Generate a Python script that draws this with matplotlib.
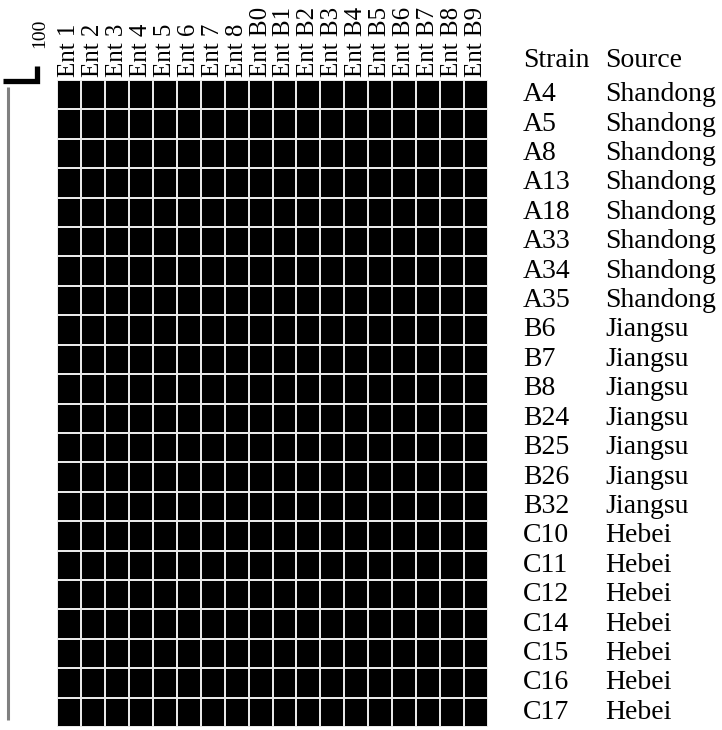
import numpy as np
import matplotlib
matplotlib.use("Agg")
import matplotlib.pyplot as plt
from matplotlib.colors import ListedColormap
from matplotlib.transforms import blended_transform_factory

genes = ["Ent 1", "Ent 2", "Ent 3", "Ent 4", "Ent 5", "Ent 6", "Ent 7", "Ent 8", "Ent B0",
         "Ent B1", "Ent B2", "Ent B3", "Ent B4", "Ent B5", "Ent B6", "Ent B7", "Ent B8", "Ent B9"]
strains = ["A4", "A5", "A8", "A13", "A18", "A33", "A34", "A35",
           "B6", "B7", "B8", "B24", "B25", "B26", "B32",
           "C10", "C11", "C12", "C14", "C15", "C16", "C17"]
sources = ["Shandong"] * 8 + ["Jiangsu"] * 7 + ["Hebei"] * 7
# 1 = gene present (black cell)
presence = [
    [1, 1, 1, 1, 1, 1, 1, 1, 1, 1, 1, 1, 1, 1, 1, 1, 1, 1],
    [1, 1, 1, 1, 1, 1, 1, 1, 1, 1, 1, 1, 1, 1, 1, 1, 1, 1],
    [1, 1, 1, 1, 1, 1, 1, 1, 1, 1, 1, 1, 1, 1, 1, 1, 1, 1],
    [1, 1, 1, 1, 1, 1, 1, 1, 1, 1, 1, 1, 1, 1, 1, 1, 1, 1],
    [1, 1, 1, 1, 1, 1, 1, 1, 1, 1, 1, 1, 1, 1, 1, 1, 1, 1],
    [1, 1, 1, 1, 1, 1, 1, 1, 1, 1, 1, 1, 1, 1, 1, 1, 1, 1],
    [1, 1, 1, 1, 1, 1, 1, 1, 1, 1, 1, 1, 1, 1, 1, 1, 1, 1],
    [1, 1, 1, 1, 1, 1, 1, 1, 1, 1, 1, 1, 1, 1, 1, 1, 1, 1],
    [1, 1, 1, 1, 1, 1, 1, 1, 1, 1, 1, 1, 1, 1, 1, 1, 1, 1],
    [1, 1, 1, 1, 1, 1, 1, 1, 1, 1, 1, 1, 1, 1, 1, 1, 1, 1],
    [1, 1, 1, 1, 1, 1, 1, 1, 1, 1, 1, 1, 1, 1, 1, 1, 1, 1],
    [1, 1, 1, 1, 1, 1, 1, 1, 1, 1, 1, 1, 1, 1, 1, 1, 1, 1],
    [1, 1, 1, 1, 1, 1, 1, 1, 1, 1, 1, 1, 1, 1, 1, 1, 1, 1],
    [1, 1, 1, 1, 1, 1, 1, 1, 1, 1, 1, 1, 1, 1, 1, 1, 1, 1],
    [1, 1, 1, 1, 1, 1, 1, 1, 1, 1, 1, 1, 1, 1, 1, 1, 1, 1],
    [1, 1, 1, 1, 1, 1, 1, 1, 1, 1, 1, 1, 1, 1, 1, 1, 1, 1],
    [1, 1, 1, 1, 1, 1, 1, 1, 1, 1, 1, 1, 1, 1, 1, 1, 1, 1],
    [1, 1, 1, 1, 1, 1, 1, 1, 1, 1, 1, 1, 1, 1, 1, 1, 1, 1],
    [1, 1, 1, 1, 1, 1, 1, 1, 1, 1, 1, 1, 1, 1, 1, 1, 1, 1],
    [1, 1, 1, 1, 1, 1, 1, 1, 1, 1, 1, 1, 1, 1, 1, 1, 1, 1],
    [1, 1, 1, 1, 1, 1, 1, 1, 1, 1, 1, 1, 1, 1, 1, 1, 1, 1],
    [1, 1, 1, 1, 1, 1, 1, 1, 1, 1, 1, 1, 1, 1, 1, 1, 1, 1],
]
similarity = 100  # all strains cluster at 100 % similarity

plt.rcParams["font.family"] = ["Liberation Serif", "DejaVu Serif"]

W, H = 722, 730
fig = plt.figure(figsize=(W / 100, H / 100), dpi=100)

# heatmap block (pixel box from the reference)
x0, x1, y0, y1 = 57, 488, 80, 727
ax = fig.add_axes([x0 / W, 1 - y1 / H, (x1 - x0) / W, (y1 - y0) / H])
mat = np.array(presence)
ax.pcolormesh(mat, cmap=ListedColormap(["white", "black"]), vmin=0, vmax=1,
              edgecolors="#e8e8e8", linewidth=1.1)
ax.set_xlim(0, len(genes))
ax.set_ylim(len(strains), 0)
ax.xaxis.tick_top()
ax.set_xticks(np.arange(len(genes)) + 0.5)
ax.set_xticklabels(genes, rotation=90, fontsize=18, va="bottom")
ax.tick_params(axis="x", length=0, pad=2)
ax.set_yticks([])
for s in ax.spines.values():
    s.set_visible(False)

# strain / source table on the right
tr = blended_transform_factory(ax.transAxes, ax.transData)
col_strain = (523 - x0) / (x1 - x0)
col_source = (605 - x0) / (x1 - x0)
fs = 20
ax.text(col_strain, -0.65, "Strain", transform=tr, fontsize=fs, va="center", ha="left")
ax.text(col_source, -0.65, "Source", transform=tr, fontsize=fs, va="center", ha="left")
for i, (st, so) in enumerate(zip(strains, sources)):
    ax.text(col_strain, i + 0.5, st, transform=tr, fontsize=fs, va="center", ha="left")
    ax.text(col_source, i + 0.5, so, transform=tr, fontsize=fs, va="center", ha="left")

# dendrogram + scale bar on the left (shares the row scale)
dax = fig.add_axes([0, 1 - y1 / H, x0 / W, (y1 - y0) / H])
dax.set_xlim(0, x0)
dax.set_ylim(len(strains), 0)
dax.axis("off")
dax.plot([7.5, 7.5], [0.24, len(strains) - 0.23], color="#808080", lw=2.2,
         solid_capstyle="butt", clip_on=False)
dax.plot([3, 37, 37], [0.02, 0.02, -0.48], color="black", lw=3.8,
         solid_joinstyle="miter", solid_capstyle="butt", clip_on=False)
dax.text(39.5, -1.1, str(similarity), rotation=90, fontsize=14,
         ha="center", va="bottom", clip_on=False)

fig.savefig("out.png", dpi=100)
